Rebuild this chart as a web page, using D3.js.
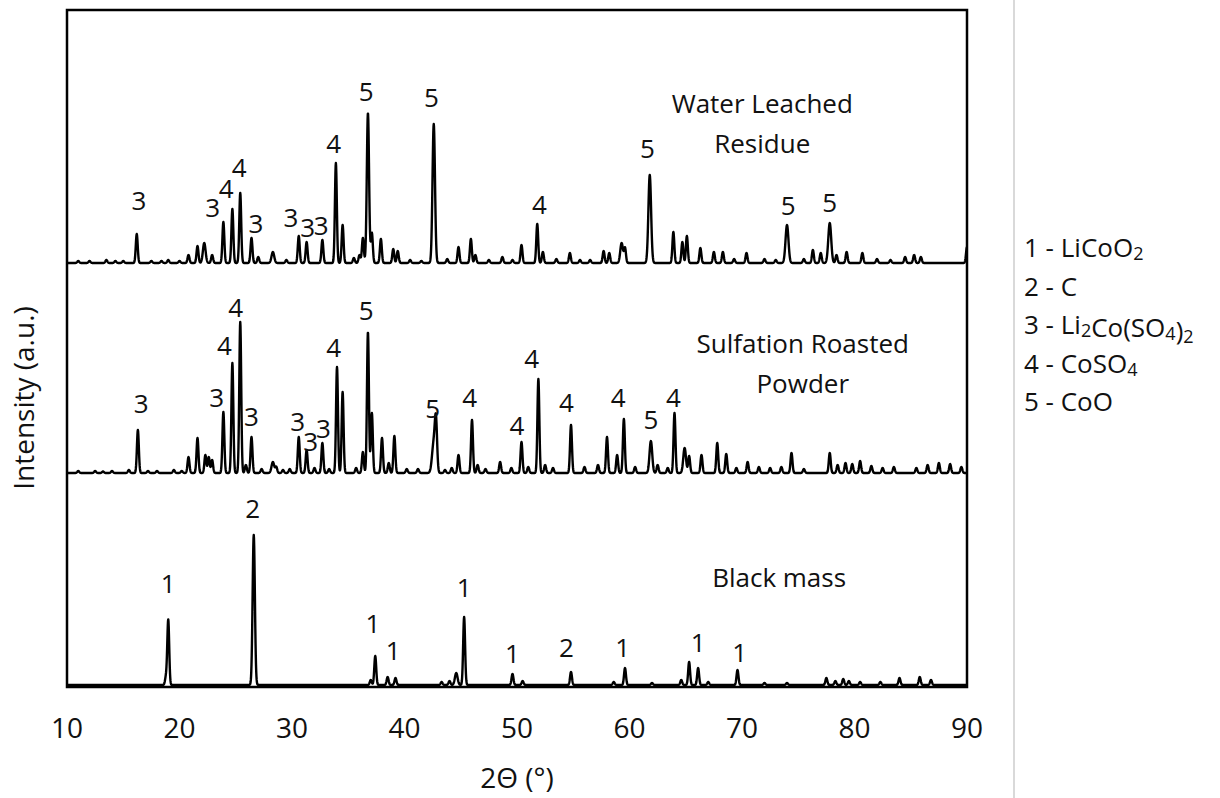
<!DOCTYPE html>
<html>
<head>
<meta charset="utf-8">
<script src="https://d3js.org/d3.v7.min.js"></script>
<style>
  body { margin: 0; background: #fff; }
  svg { display: block; font-family: "Open Sans", sans-serif; }
  .trace { fill: none; stroke: #000; stroke-width: 2.4; stroke-linejoin: round; }
  .lbl { font-size: 26px; fill: #111; text-anchor: middle; }
</style>
</head>
<body>
<svg id="chart" width="1220" height="798"></svg>
<script>
  // peaks: [2theta, height above baseline, optional width (deg)]
  var blackMassPeaks = [
    [18.8, 8], [19.0, 65], [26.6, 150, 0.1], [37.0, 5], [37.4, 29], [38.5, 8], [39.2, 7],
    [43.3, 3], [44.0, 4], [44.6, 12, 0.12], [45.3, 68], [49.6, 11], [50.5, 4], [54.8, 13],
    [58.6, 3], [59.6, 17], [62.0, 2], [64.6, 5], [65.3, 23], [66.1, 17], [67.0, 3],
    [69.6, 15], [72.0, 2], [74.0, 2], [77.5, 7], [78.3, 4], [79.0, 6], [79.5, 4],
    [80.5, 3], [82.3, 3], [84.0, 7], [85.8, 8], [86.8, 5]
  ];

  var sulfationPeaks = [
    [11.0, 2], [12.5, 2], [13.2, 1.5], [14.0, 2], [15.5, 3], [16.3, 43], [17.2, 2], [18.0, 2],
    [19.5, 3], [20.2, 2], [20.8, 16], [21.6, 35],
    [22.3, 18], [22.6, 16], [22.9, 13], [23.9, 61], [24.7, 110], [25.4, 151], [25.9, 8],
    [26.4, 36], [27.3, 4], [28.3, 11, 0.12], [28.6, 6], [29.2, 3], [29.8, 4], [30.6, 36], [31.3, 23],
    [32.0, 5], [32.7, 30], [33.3, 4], [34.0, 106], [34.5, 81], [35.7, 5], [36.3, 21], [36.75, 141],
    [37.1, 60], [38.0, 35], [38.6, 10], [39.1, 37], [40.2, 4], [41.2, 4], [42.6, 30, 0.15],
    [42.8, 46, 0.1], [43.6, 3], [44.2, 5], [44.8, 18], [46.0, 53], [46.5, 8], [47.2, 4], [48.5, 11],
    [49.5, 5], [50.4, 31], [51.0, 6], [51.9, 94], [52.5, 8], [53.2, 5], [54.8, 48], [56.0, 6],
    [57.2, 8], [58.0, 36], [58.9, 18], [59.5, 54], [60.5, 6], [61.9, 32, 0.12], [62.5, 8],
    [63.4, 5], [64.0, 60], [64.9, 25, 0.12], [65.3, 17], [66.4, 18], [67.8, 30], [68.6, 19],
    [69.5, 5], [70.5, 11], [71.5, 6], [72.5, 5], [73.5, 6], [74.4, 20], [75.5, 4], [77.8, 20],
    [78.5, 8], [79.2, 10], [79.8, 9], [80.5, 12], [81.5, 7], [82.5, 5], [83.5, 6], [85.5, 5],
    [86.5, 8], [87.5, 10], [88.5, 9], [89.5, 6]
  ];

  var leachedPeaks = [
    [11.0, 2], [12.0, 2], [13.5, 3], [14.3, 2], [15.0, 2], [16.2, 29], [17.5, 2], [18.4, 2],
    [19.0, 3], [20.0, 2], [20.8, 8], [21.6, 17],
    [22.2, 20, 0.12], [22.9, 8], [23.9, 41], [24.7, 54], [25.4, 70], [26.4, 25], [27.0, 6],
    [28.3, 11, 0.12], [29.5, 3], [30.6, 27], [31.3, 21], [32.7, 23], [33.9, 100], [34.5, 38],
    [35.5, 5], [36.0, 8], [36.3, 25], [36.75, 150, 0.1], [37.1, 30], [37.9, 24], [39.0, 14],
    [39.4, 12], [40.5, 3], [41.5, 2], [42.6, 139, 0.11], [43.8, 4], [44.8, 16], [45.9, 24], [46.3, 8],
    [47.5, 3], [48.7, 6], [49.6, 3], [50.4, 18], [51.8, 39], [52.3, 11], [53.5, 4], [54.7, 10],
    [55.6, 3], [56.5, 3], [57.7, 12], [58.2, 10], [59.3, 20, 0.12], [59.6, 15], [61.8, 88, 0.12],
    [63.9, 31], [64.7, 21], [65.1, 27], [66.3, 15], [67.5, 11], [68.3, 11], [69.3, 4], [70.4, 10],
    [72.0, 4], [73.0, 3], [74.0, 38, 0.13], [75.5, 4], [76.3, 13], [77.0, 10], [77.8, 40, 0.13], [78.4, 8],
    [79.3, 11], [80.7, 10], [82.0, 4], [83.2, 3], [84.5, 6], [85.3, 8], [85.9, 6], [90.0, 16]
  ];

  // baseline of each trace (intensity units)
  var traceOffsets = [2, 214, 424];

  // peak labels: [2theta, text, height above baseline]
  var blackMassLabels = [
    [19.0, "1", 92], [26.5, "2", 167], [37.2, "1", 52], [39.0, "1", 25], [45.3, "1", 88],
    [49.6, "1", 22], [54.4, "2", 28], [59.4, "1", 28], [66.1, "1", 33], [69.8, "1", 23]
  ];
  var sulfationLabels = [
    [16.6, "3", 60], [23.3, "3", 66], [24.0, "4", 118], [25.0, "4", 156], [26.4, "3", 47],
    [30.5, "3", 42], [31.65, "3", 22], [32.8, "3", 35], [33.7, "4", 116], [36.6, "5", 153],
    [42.5, "5", 55], [45.8, "4", 66], [50.0, "4", 38], [51.3, "4", 105], [54.4, "4", 61],
    [59.0, "4", 66], [61.9, "5", 44], [63.9, "4", 66]
  ];
  var leachedLabels = [
    [16.4, "3", 53], [22.95, "3", 46], [24.15, "4", 65], [25.3, "4", 86], [26.8, "3", 30],
    [29.9, "3", 36], [31.4, "3", 26], [32.6, "3", 28], [33.7, "4", 110], [36.6, "5", 162],
    [42.4, "5", 156], [52.0, "4", 49], [61.6, "5", 105], [74.1, "5", 48], [77.8, "5", 51]
  ];

  // sample names: [2theta, lines, height above baseline of first line]
  var sampleNames = [
    [73.3, ["Black mass"], 98],
    [75.4, ["Sulfation Roasted", "Powder"], 120],
    [71.8, ["Water Leached", "Residue"], 150]
  ];

  var xTicks = [10, 20, 30, 40, 50, 60, 70, 80, 90];

  var legendItems = [
    [["1 - LiCoO", false], ["2", true]],
    [["2 - C", false]],
    [["3 - Li", false], ["2", true], ["Co(SO", false], ["4", true], [")", false], ["2", true]],
    [["4 - CoSO", false], ["4", true]],
    [["5 - CoO", false]]
  ];

  var svg = d3.select("#chart");
  var x = d3.scaleLinear().domain([10, 90]).range([67, 967]);
  var y = d3.scaleLinear().domain([0, 677]).range([687, 10]);

  function profile(peaks, offset) {
    var pts = [];
    for (var t = 10; t <= 90.0001; t += 0.02) {
      var v = offset;
      peaks.forEach(function(p) {
        var w = p[2] || 0.085;
        var d = (t - p[0]) / w;
        if (Math.abs(d) < 6) v += p[1] * Math.exp(-0.5 * d * d);
      });
      pts.push([t, v]);
    }
    return pts;
  }

  var line = d3.line().x(function(d) { return x(d[0]); }).y(function(d) { return y(d[1]); });

  svg.append("clipPath").attr("id", "clip")
    .append("rect").attr("x", 67).attr("y", 10).attr("width", 900).attr("height", 677);

  var traces = [blackMassPeaks, sulfationPeaks, leachedPeaks];
  var labels = [blackMassLabels, sulfationLabels, leachedLabels];

  traces.forEach(function(pk, i) {
    svg.append("path")
      .attr("class", "trace")
      .attr("clip-path", "url(#clip)")
      .attr("d", line(profile(pk, traceOffsets[i])));
  });

  labels.forEach(function(lb, i) {
    svg.selectAll(null).data(lb).enter().append("text")
      .attr("class", "lbl")
      .attr("x", function(d) { return x(d[0]); })
      .attr("y", function(d) { return y(traceOffsets[i] + d[2]); })
      .text(function(d) { return d[1]; });
  });

  sampleNames.forEach(function(s, i) {
    s[1].forEach(function(txt, j) {
      svg.append("text").attr("class", "lbl")
        .attr("x", x(s[0]))
        .attr("y", y(traceOffsets[i] + s[2]) + j * 40)
        .text(txt);
    });
  });

  // frame
  svg.append("rect")
    .attr("x", 67).attr("y", 10).attr("width", 900).attr("height", 677)
    .attr("fill", "none").attr("stroke", "#000").attr("stroke-width", 2.5);

  // x axis labels (no tick marks)
  svg.selectAll(".xt").data(xTicks).enter().append("text")
    .attr("class", "xt")
    .attr("x", function(d) { return x(d); })
    .attr("y", 738)
    .attr("text-anchor", "middle")
    .attr("font-size", 28)
    .attr("fill", "#111")
    .text(function(d) { return d; });

  svg.append("text")
    .attr("x", 517).attr("y", 788)
    .attr("text-anchor", "middle")
    .attr("font-size", 28).attr("fill", "#111")
    .text("2\u0398 (\u00b0)");

  svg.append("text")
    .attr("transform", "translate(34,398) rotate(-90)")
    .attr("text-anchor", "middle")
    .attr("font-size", 28).attr("fill", "#111")
    .text("Intensity (a.u.)");

  // separator
  svg.append("line")
    .attr("x1", 1014).attr("x2", 1014).attr("y1", 0).attr("y2", 798)
    .attr("stroke", "#d9d9d9").attr("stroke-width", 2);

  // legend
  legendItems.forEach(function(parts, i) {
    var t = svg.append("text")
      .attr("x", 1024).attr("y", 257 + i * 38.5)
      .attr("font-size", 26).attr("fill", "#111");
    parts.forEach(function(p) {
      t.append("tspan")
        .attr("font-size", p[1] ? 18 : 26)
        .attr("dy", p[1] ? 3 : 0)
        .text(p[0]);
      if (p[1]) t.append("tspan").attr("dy", -3).text("");
    });
  });
</script>
</body>
</html>
